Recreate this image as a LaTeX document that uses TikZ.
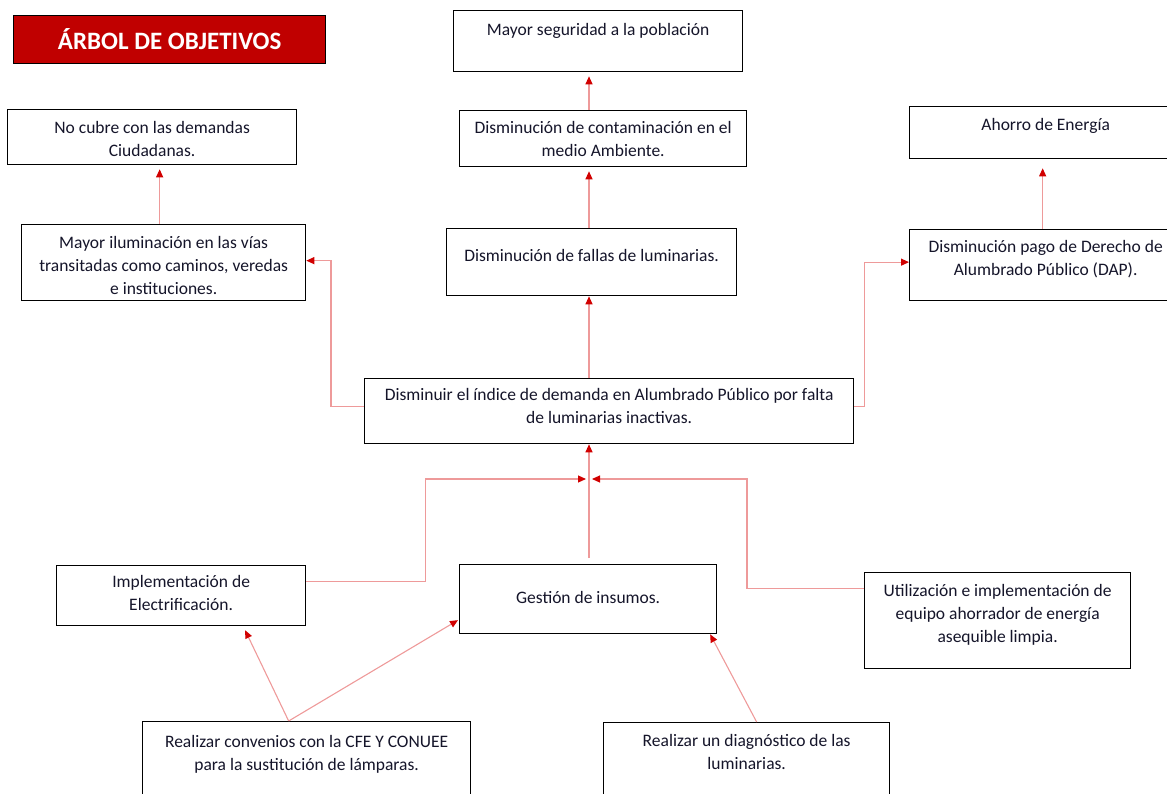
\documentclass[tikz,border=0pt]{standalone}
\usepackage{fontspec}
\setmainfont{Carlito}
\usetikzlibrary{arrows.meta,calc}
\definecolor{titlered}{HTML}{C00000}
\definecolor{linered}{HTML}{EE9A9A}
\definecolor{tipred}{HTML}{D10000}
\definecolor{txt}{HTML}{15152A}
\newcommand{\obox}[7]{%
  \node[obox, anchor=north west] (#1) at (#2,#3)
    {\parbox[c][#5pt][t]{#4pt}{\centering\vspace*{#6pt}\strut #7\par}};}
\tikzset{
  obox/.style={draw=black, line width=1.3pt, fill=white, inner sep=0pt, text=txt,
    font=\fontsize{17.5}{23}\selectfont},
  titlebox/.style={draw=black, line width=1.2pt, fill=titlered, text=white,
    font=\fontsize{25}{28}\selectfont\bfseries, inner sep=0pt},
  conn/.style={draw=linered, line width=1.1pt,
    -{Triangle[length=8pt,width=7pt,color=tipred,fill=tipred]}},
}
\begin{document}
\begin{tikzpicture}[x=1pt,y=-1pt]
\useasboundingbox (0,0) rectangle (1167,794);
\node[titlebox, anchor=north west, minimum width=312pt, minimum height=48pt] (title) at (13,15) {\raisebox{1.5pt}{ÁRBOL DE OBJETIVOS}};

\obox{A}{453}{10}{289}{61}{8.5}{Mayor seguridad a la población}
\obox{B}{459}{110}{287}{56}{6.5}{Disminución de contaminación en el\\ medio Ambiente.}
\obox{C}{446}{228}{290}{67}{16.5}{Disminución de fallas de luminarias.}
\obox{D}{364}{378}{489}{65}{6}{Disminuir el índice de demanda en Alumbrado Público por falta\\ de luminarias inactivas.}
\obox{E}{7}{109}{289}{55}{7.5}{No cubre con las demandas\\ Ciudadanas.}
\obox{F}{21}{224}{284}{76}{7.5}{Mayor iluminación en las vías\\ transitadas como caminos, veredas\\ e instituciones.}
\obox{G}{909}{106}{272}{52}{7.5}{Ahorro de Energía}
\obox{H}{909}{229}{272}{71}{7}{Disminución pago de Derecho de\\ Alumbrado Público (DAP).}
\obox{I}{56}{565}{249}{60}{6}{Implementación de\\ Electrificación.}
\obox{J}{459}{564}{257}{69}{22.5}{Gestión de insumos.}
\obox{K}{864}{572}{266}{96}{8}{Utilización e implementación de\\ equipo ahorrador de energía\\ asequible limpia.}
\obox{L}{142}{721}{328}{90}{9.5}{Realizar convenios con la CFE Y CONUEE\\ para la sustitución de lámparas.}
\obox{M}{603}{722}{286}{90}{7.5}{Realizar un diagnóstico de las\\ luminarias.}

\coordinate (spine) at (589,0);
\coordinate (jn) at (589,479);

% upward chain in the centre
\draw[conn] (B.north -| spine) -- ([yshift=-4pt]A.south -| spine);
\draw[conn] (C.north -| spine) -- ([yshift=-4pt]B.south -| spine);
\draw[conn] (D.north -| spine) -- (C.south -| spine);
\draw[conn, shorten <=6pt] (J.north -| spine) -- (D.south -| spine);

% left and right branches
\draw[conn] ([xshift=-4pt]F.north) -- ([xshift=-4pt,yshift=-4pt]F.north |- E.south);
\draw[conn] ([xshift=-3pt]H.north) -- ([xshift=-3pt,yshift=-9pt]H.north |- G.south);
\draw[conn] ([yshift=5pt]D.west) -- ++(-33,0) |- ([yshift=2pt]F.east);
\draw[conn] ([yshift=5pt]D.east) -- ++(10,0) |- ([yshift=3pt]H.west);

% junction below D
\draw[conn] ([yshift=14pt]I.east) -- ++(119,0) |- ([xshift=-3pt]jn);
\draw[conn] ([yshift=32pt]K.west) -- ++(-117,0) |- ([xshift=3pt]jn);

% bottom level
\draw[conn] ([xshift=-18pt]L.north) -- ([xshift=64pt,yshift=-4pt]I.south);
\draw[conn] ([xshift=-18pt]L.north) -- ([xshift=-1pt,yshift=-21pt]J.west);
\draw[conn] ([xshift=10pt]M.north) -- ([xshift=122pt]J.south);
\end{tikzpicture}
\end{document}
